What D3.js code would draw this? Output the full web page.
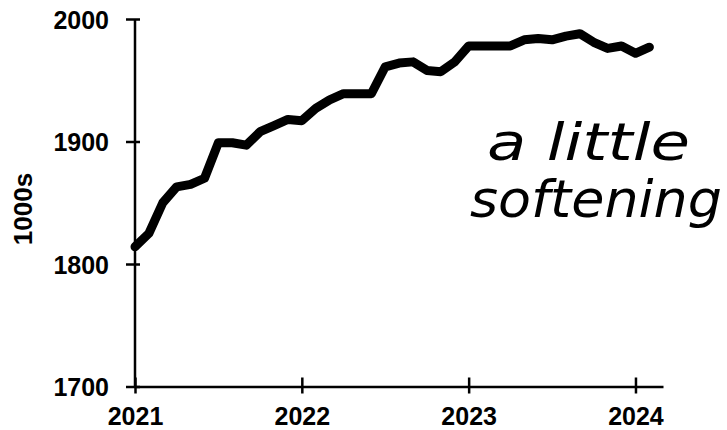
<!DOCTYPE html>
<html>
<head>
<meta charset="utf-8">
<script src="https://cdn.jsdelivr.net/npm/d3@7"></script>
<style>
  body { margin: 0; background: #fff; }
  svg { display: block; }
</style>
</head>
<body>
<script>
// monthly values, Jan 2021 .. Feb 2024 (thousands)
const months = d3.range(38).map(i => 2021 + i / 12);
const values = [
  1814, 1825, 1850, 1863, 1865, 1870, 1899, 1899, 1897, 1908, 1913, 1918,
  1917, 1927, 1934, 1939, 1939, 1939, 1961, 1964, 1965, 1958, 1957, 1965,
  1978, 1978, 1978, 1978, 1983, 1984, 1983, 1986, 1988, 1981, 1976, 1978,
  1972, 1977
];
const yTicks = [1700, 1800, 1900, 2000];
const xTicks = [2021, 2022, 2023, 2024];
const noteLines = ["a little", "softening"];

const width = 727, height = 430;

const svg = d3.select("body").append("svg")
    .attr("width", width)
    .attr("height", height);

const x = d3.scaleLinear()
    .domain([2021, 2024.165])
    .range([135, 663]);

const y = d3.scaleLinear()
    .domain([1700, 2000])
    .range([386.5, 19]);

const font = "'Liberation Sans', Arial, sans-serif";

// y axis
const gy = svg.append("g")
    .attr("transform", "translate(" + x(2021) + ",0)")
    .call(d3.axisLeft(y).tickValues(yTicks).tickFormat(d3.format("d")).tickSizeOuter(0));
gy.select(".domain").attr("stroke-width", 2.5)
    .attr("d", "M0," + y(1700) + "V" + y(2000));
gy.selectAll(".tick line").attr("x1", 5).attr("x2", -9).attr("stroke-width", 2.5);
gy.selectAll(".tick text")
    .attr("x", -26)
    .attr("dy", "0.36em")
    .style("font-family", font)
    .style("font-weight", "bold")
    .style("font-size", "25px")
    .attr("fill", "#000");

// x axis
const gx = svg.append("g")
    .attr("transform", "translate(0," + y(1700) + ")")
    .call(d3.axisBottom(x).tickValues(xTicks).tickFormat(d3.format("d")).tickSizeOuter(0));
gx.select(".domain").attr("stroke-width", 2.5);
gx.selectAll(".tick line").attr("y1", -9).attr("y2", 7).attr("stroke-width", 2.5);
gx.selectAll(".tick text")
    .attr("y", 21)
    .style("font-family", font)
    .style("font-weight", "bold")
    .style("font-size", "25px")
    .attr("fill", "#000");

// y axis title
svg.append("text")
    .attr("transform", "translate(32,209)rotate(-90)")
    .attr("text-anchor", "middle")
    .style("font-family", font)
    .style("font-weight", "bold")
    .style("font-size", "26px")
    .text("1000s");

// the line
const line = d3.line()
    .x((d, i) => x(months[i]))
    .y(d => y(d));

svg.append("path")
    .datum(values)
    .attr("fill", "none")
    .attr("stroke", "#000")
    .attr("stroke-width", 9)
    .attr("stroke-linejoin", "round")
    .attr("stroke-linecap", "round")
    .attr("d", line);

// handwritten note
const note = svg.append("text")
    .style("font-family", "'DejaVu Sans', sans-serif")
    .style("font-weight", "200")
    .style("font-style", "italic")
    .style("font-size", "52px")
    .attr("fill", "#000");
note.append("tspan").attr("x", 487).attr("y", 160)
    .attr("textLength", 203).attr("lengthAdjust", "spacingAndGlyphs")
    .text(noteLines[0]);
note.append("tspan").attr("x", 470).attr("y", 217)
    .attr("textLength", 252).attr("lengthAdjust", "spacingAndGlyphs")
    .text(noteLines[1]);
</script>
</body>
</html>
